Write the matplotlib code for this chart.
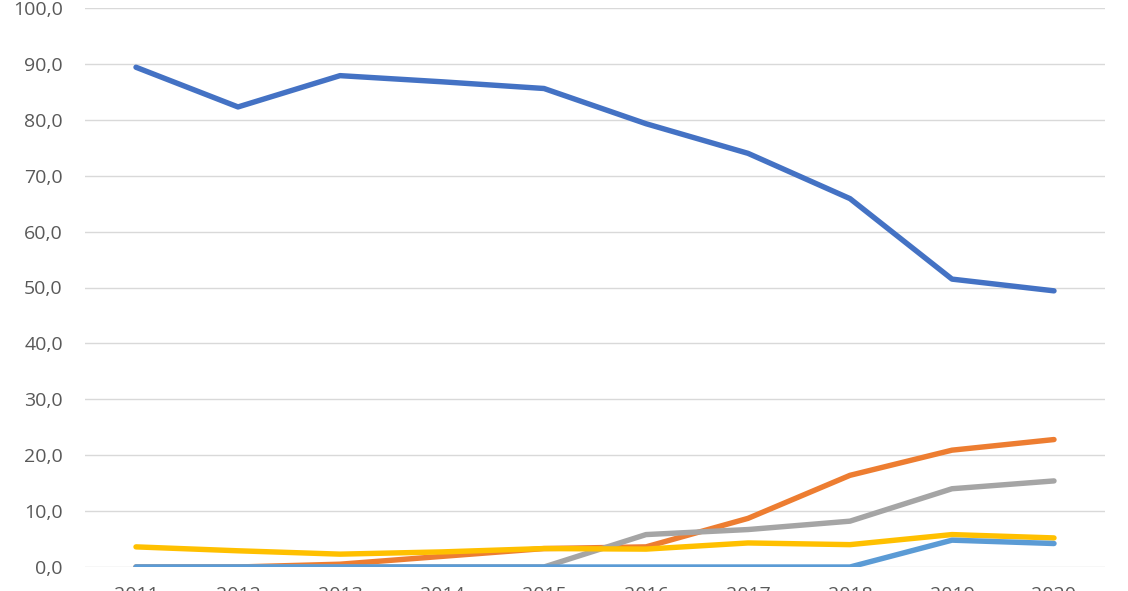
import matplotlib
matplotlib.use("Agg")
import matplotlib.pyplot as plt

years = ["2011", "2012", "2013", "2014", "2015", "2016", "2017", "2018", "2019", "2020"]
series_1 = [89.4, 82.3, 87.9, 86.8, 85.6, 79.3, 74.0, 65.9, 51.5, 49.4]
series_2 = [0.0, 0.0, 0.5, 1.9, 3.3, 3.6, 8.7, 16.4, 20.9, 22.8]
series_3 = [0.0, 0.0, 0.0, 0.0, 0.0, 5.8, 6.7, 8.2, 14.0, 15.4]
series_4 = [3.6, 2.9, 2.3, 2.7, 3.3, 3.2, 4.3, 4.0, 5.8, 5.2]
series_5 = [0.0, 0.0, 0.0, 0.0, 0.0, 0.0, 0.0, 0.0, 4.8, 4.2]
y_ticks = [0, 10, 20, 30, 40, 50, 60, 70, 80, 90, 100]

colors = ["#4472C4", "#ED7D31", "#A5A5A5", "#FFC000", "#5B9BD5"]

plt.rcParams['font.family'] = ['Open Sans', 'DejaVu Sans']

fig = plt.figure(figsize=(11.28, 5.91), dpi=100)
ax = fig.add_axes([85/1128, (591-567)/591, (1105-85)/1128, (567-8)/591])

x = list(range(len(years)))
for s, c in zip([series_1, series_2, series_3, series_4, series_5], colors):
    ax.plot(x, s, color=c, lw=3.9, solid_capstyle='round', solid_joinstyle='round', zorder=3)

ax.set_xlim(-0.5, len(years) - 0.5)
ax.set_ylim(0, 100)
ax.set_yticks(y_ticks)
ax.set_yticklabels([f"{v:.1f}".replace('.', ',') for v in y_ticks])
ax.set_xticks(x)
ax.set_xticklabels(years)
ax.grid(axis='y', color='#D9D9D9', lw=1, zorder=0)
for sp in ax.spines.values():
    sp.set_visible(False)
ax.tick_params(axis='both', length=0, labelsize=14, colors='#595959')
ax.tick_params(axis='x', pad=14)
ax.tick_params(axis='y', pad=16)

fig.savefig("out.png", dpi=100)
